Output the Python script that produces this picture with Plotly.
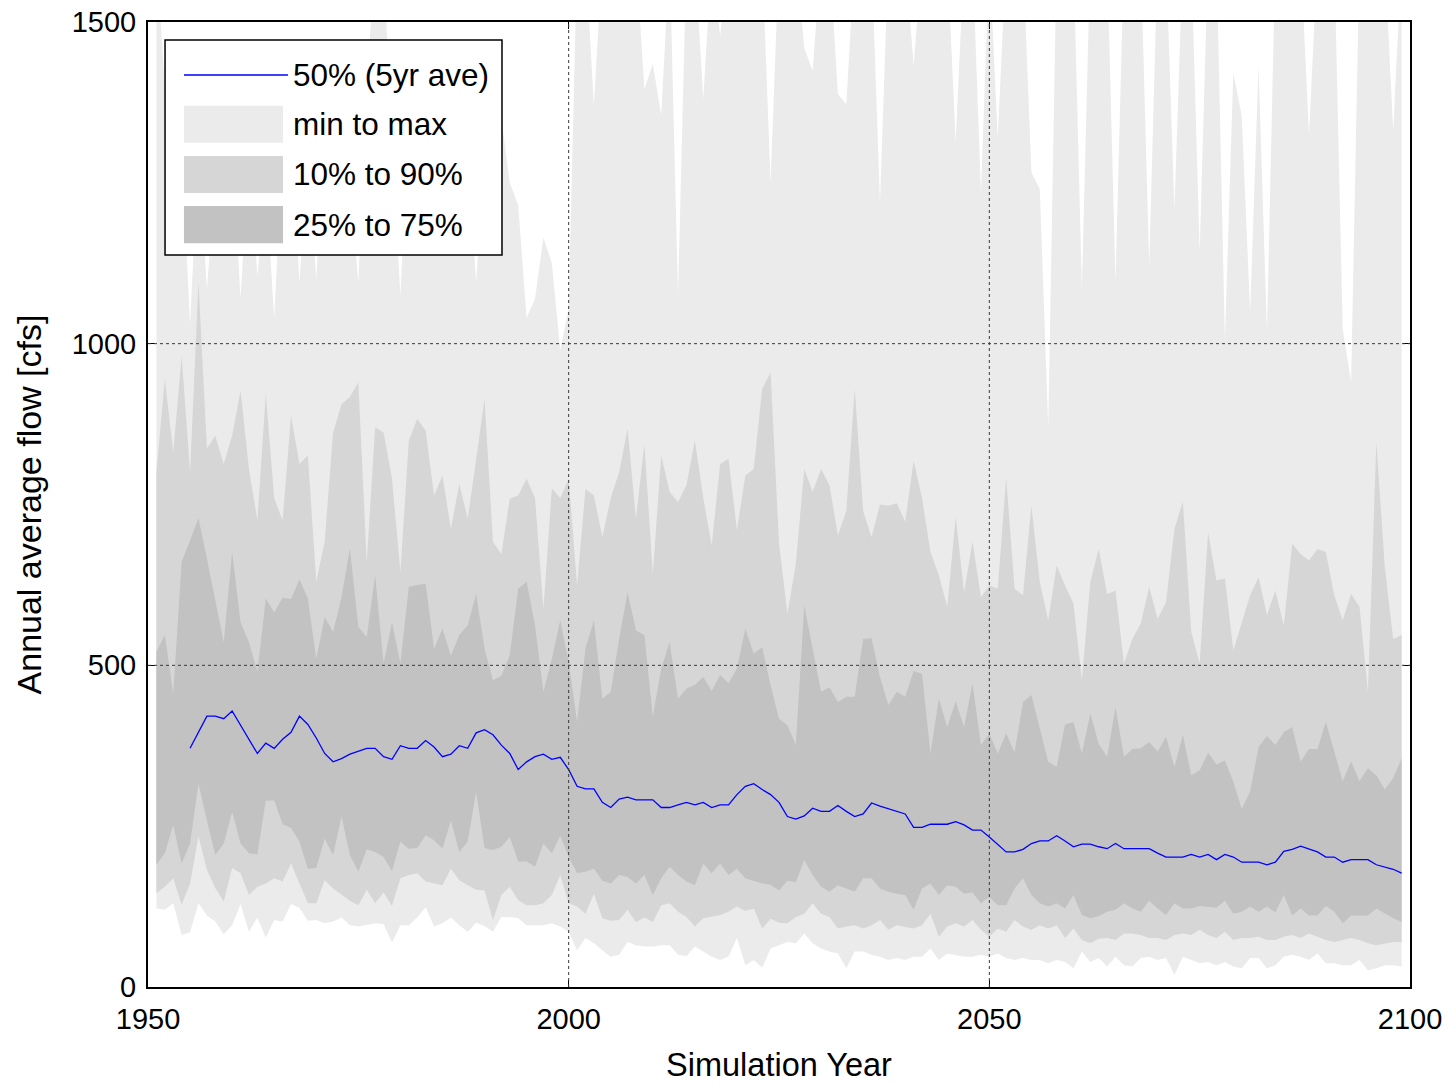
import plotly.graph_objects as go

# ---------------- data ----------------
years = list(range(1951, 2100))

flow_min = [122, 120, 130, 81, 85, 130, 111, 102, 82, 96, 129, 86, 108, 77, 104, 102, 129, 123, 103, 104,
            99, 102, 108, 96, 94, 96, 99, 98, 69, 96, 96, 108, 124, 94, 99, 108, 96, 86,
            100, 95, 86, 109, 109, 107, 96, 96, 96, 99, 94, 86, 57, 76, 68, 57, 47, 50, 70, 65,
            63, 63, 65, 65, 50, 48, 63, 55, 47, 42, 47, 76, 34, 42, 30, 60, 65,
            70, 68, 83, 68, 60, 55, 52, 29, 55, 55, 50, 47, 42, 45, 42, 47, 47, 60, 42, 52,
            50, 47, 47, 50, 47, 52, 45, 42, 45, 42, 42, 37, 42, 39, 29, 55, 39, 45,
            32, 47, 34, 32, 45, 47, 42, 45, 19, 47, 42, 37, 39, 34, 39, 32, 29, 45, 45, 29,
            34, 47, 50, 47, 42, 52, 37, 37, 34, 34, 42, 26, 29, 34, 34, 32]

flow_p10 = [146, 156, 169, 128, 161, 234, 182, 154, 133, 185, 177, 143, 156, 161, 169, 164, 192, 160, 130, 130,
            166, 153, 143, 134, 127, 151, 130, 147, 126, 169, 174, 177, 164, 161, 158, 184, 166, 158,
            151, 150, 104, 143, 156, 135, 127, 127, 130, 143, 174, 130, 125, 114, 145, 107, 103, 104, 120, 101,
            108, 101, 127, 130, 117, 109, 94, 107, 109, 112, 117, 125, 118, 122, 91, 106, 100,
            99, 109, 114, 130, 114, 109, 91, 94, 96, 91, 96, 104, 89, 96, 94, 91, 96, 114, 78, 94,
            99, 94, 104, 89, 78, 91, 86, 104, 94, 89, 96, 91, 96, 76, 91, 73, 68, 75,
            76, 73, 83, 83, 81, 76, 76, 73, 81, 83, 81, 89, 81, 76, 86, 73, 76, 76, 78, 73,
            73, 78, 81, 76, 83, 78, 73, 70, 73, 76, 73, 68, 65, 68, 70, 70]

flow_p25 = [190, 208, 252, 192, 223, 316, 259, 205, 223, 272, 223, 208, 206, 290, 290, 253, 247, 226, 184, 185,
            231, 205, 265, 205, 179, 214, 210, 202, 180, 226, 215, 216, 236, 228, 215, 259, 210, 226,
            303, 216, 213, 218, 233, 195, 195, 187, 223, 208, 235, 202, 177, 179, 184, 165, 161, 174, 171, 161,
            174, 143, 169, 187, 174, 164, 158, 192, 177, 192, 174, 184, 169, 165, 161, 159, 150,
            165, 163, 197, 174, 156, 148, 158, 153, 148, 169, 169, 153, 148, 145, 143, 120, 153, 161, 143, 158,
            156, 145, 147, 130, 140, 127, 127, 153, 169, 143, 130, 125, 130, 122, 143, 112, 107, 110,
            117, 120, 130, 122, 117, 134, 122, 112, 130, 122, 122, 126, 125, 123, 134, 114, 117, 125, 117, 125,
            116, 143, 111, 122, 111, 111, 126, 117, 99, 111, 111, 111, 122, 114, 107, 101]

flow_p75 = [521, 547, 456, 661, 694, 729, 666, 598, 536, 676, 567, 536, 490, 604, 582, 605, 603, 634, 604, 510,
            575, 552, 606, 682, 560, 544, 640, 503, 567, 503, 622, 625, 627, 526, 557, 515, 547, 562,
            611, 526, 477, 484, 516, 619, 630, 562, 459, 510, 570, 505, 412, 526, 570, 448, 459, 541, 614, 554,
            547, 420, 495, 536, 448, 464, 470, 482, 460, 485, 472, 495, 557, 518, 528, 469, 417,
            407, 376, 593, 526, 459, 466, 443, 451, 451, 541, 542, 482, 438, 459, 451, 491, 487, 363, 448, 404,
            444, 404, 472, 376, 394, 363, 394, 365, 443, 454, 402, 350, 342, 408, 412, 363, 425, 378,
            358, 435, 358, 370, 371, 381, 366, 389, 342, 392, 329, 337, 364, 346, 352, 319, 277, 304, 373, 390,
            376, 396, 404, 350, 370, 370, 412, 366, 320, 351, 320, 340, 329, 307, 325, 355]

flow_p90 = [800, 945, 831, 981, 800, 1095, 837, 857, 813, 857, 927, 805, 725, 922, 760, 725, 888, 813, 826, 630,
            692, 862, 906, 917, 940, 660, 870, 862, 790, 645, 849, 883, 865, 764, 795, 712, 782, 728,
            820, 914, 692, 673, 759, 764, 790, 760, 588, 775, 760, 790, 624, 774, 764, 699, 760, 800, 868, 728,
            844, 642, 826, 770, 754, 780, 850, 760, 686, 813, 821, 710, 795, 805, 930,
            955, 690, 580, 658, 805, 770, 805, 780, 702, 740, 930, 740, 699, 750, 748, 752, 723, 818, 760, 676,
            640, 591, 730, 614, 692, 606, 624, 619, 792, 619, 609, 748, 629, 570, 655, 624, 596, 477,
            629, 681, 611, 616, 503, 541, 565, 622, 572, 598, 712, 754, 552, 503, 707, 632, 635, 523, 567, 609,
            637, 578, 616, 562, 689, 673, 663, 681, 676, 609, 570, 611, 591, 459, 847, 653, 541, 547]

flow_max = [1600, 1400, 1350, 1300, 1030, 1300, 1085, 1250, 1350, 1300, 1070, 1300, 1105, 1250, 1040, 1300, 1350, 1095, 1300, 1100,
            1350, 1400, 1300, 1250, 1095, 1400, 1600, 1600, 1300, 1075, 1350, 1300, 1250, 1400, 1350, 1300, 1300, 1300,
            1095, 1300, 1350, 1350, 1250, 1215, 1040, 1070, 1165, 1125, 990, 1055,
            1600, 1600, 1370, 1600, 1600, 1600, 1600, 1600, 1395, 1435, 1355, 1600, 1075, 1600, 1600, 1380, 1600, 1478,
            1600, 1600, 1600, 1600, 1600, 1250, 1600,
            1600, 1600, 1460, 1424, 1600, 1600, 1388, 1372, 1600, 1600, 1600, 1219, 1600, 1600, 1600, 1432, 1600, 1600,
            1600, 1600, 1313, 1600, 1600, 1235, 1600, 1320, 1600, 1600, 1600, 1266, 1240, 870, 1600, 1600, 1600, 1085,
            1600, 1600, 1600, 1095, 1600, 1600, 1600, 1121, 1600, 1600, 1209, 1600, 1600, 1142, 1600, 1600, 1005, 1421,
            1354, 1049, 1432, 1018, 1600, 1600, 1600, 1600, 1323, 1600, 1600, 1600, 1023, 940, 1600, 1600, 1600, 1600,
            1330, 1600]

median_years = list(range(1955, 2100))
median_5yr = [371, 395, 421, 421, 417, 429, 407, 386, 363, 379, 371, 385, 396, 421, 408, 387, 363, 350, 355, 362,
              366, 371, 371, 358, 354, 375, 371, 371, 383, 373, 358, 362, 375, 371, 395, 400, 392, 376, 363, 338,
              350, 358, 362, 354, 357, 338, 312, 308, 308, 287, 279, 292, 295, 291, 291, 291, 279, 279, 283, 287,
              283, 287, 279, 283, 283, 299, 312, 316, 307, 299, 287, 265, 261, 266, 278, 273, 273, 282, 273, 265,
              269, 286, 281, 277, 273, 269, 248, 248, 253, 253, 253, 257, 252, 244, 244, 233, 222, 210, 210, 214,
              223, 227, 227, 235, 227, 218, 222, 222, 218, 215, 223, 215, 215, 215, 215, 208, 202, 202, 202, 206,
              202, 206, 198, 206, 202, 194, 194, 194, 190, 194, 211, 214, 219, 214, 210, 202, 202, 194, 198, 198,
              198, 190, 186, 183, 177]

x_ticks = [1950, 2000, 2050, 2100]
y_ticks = [0, 500, 1000, 1500]

legend_labels = ["50% (5yr ave)", "min to max", "10% to 90%", "25% to 75%"]
band_colors = ["#ebebeb", "#d6d6d6", "#c2c2c2"]
median_color = "#0000ff"

FONT = "Liberation Sans, Arial, Helvetica, sans-serif"

# ---------------- figure ----------------
fig = go.Figure()

bands = [(flow_min, flow_max), (flow_p10, flow_p90), (flow_p25, flow_p75)]
for (lo, hi), col, name in zip(bands, band_colors, legend_labels[1:]):
    fig.add_trace(go.Scatter(x=years, y=lo, mode="lines", line=dict(width=0, color=col),
                             showlegend=False, hoverinfo="skip"))
    fig.add_trace(go.Scatter(x=years, y=hi, mode="lines", line=dict(width=0, color=col),
                             fill="tonexty", fillcolor=col, name=name, showlegend=False))

fig.add_trace(go.Scatter(x=median_years, y=median_5yr, mode="lines",
                         line=dict(color=median_color, width=1.3),
                         name=legend_labels[0], showlegend=False))

# dotted grid drawn over the bands (as in the original)
shapes = []
for v in x_ticks[1:-1]:
    shapes.append(dict(type="line", xref="x", yref="paper", x0=v, x1=v, y0=0, y1=1,
                       line=dict(color="#3a3a3a", width=1, dash="dot"), layer="above"))
for v in y_ticks[1:-1]:
    shapes.append(dict(type="line", xref="paper", yref="y", x0=0, x1=1, y0=v, y1=v,
                       line=dict(color="#3a3a3a", width=1, dash="dot"), layer="above"))

# legend box (drawn by hand so swatches match the original size)
lx0, lx1, ly0, ly1 = 0.0135, 0.2805, 0.7585, 0.9813
shapes.append(dict(type="rect", xref="paper", yref="paper", x0=lx0, x1=lx1, y0=ly0, y1=ly1,
                   fillcolor="white", line=dict(color="black", width=1.5), layer="above"))
sw_x0, sw_x1 = 0.0285, 0.1070
row_y = [0.9451, 0.8940, 0.8420, 0.7900]
half_h = 0.0192
shapes.append(dict(type="line", xref="paper", yref="paper", x0=sw_x0, x1=0.1109,
                   y0=row_y[0], y1=row_y[0], line=dict(color=median_color, width=1.3), layer="above"))
for ry, col in zip(row_y[1:], band_colors):
    shapes.append(dict(type="rect", xref="paper", yref="paper", x0=sw_x0, x1=sw_x1,
                       y0=ry - half_h, y1=ry + half_h, fillcolor=col, line=dict(width=0), layer="above"))

annotations = []
for ry, lab in zip(row_y, legend_labels):
    annotations.append(dict(xref="paper", yref="paper", x=0.1135, y=ry, text=lab, showarrow=False,
                            xanchor="left", yanchor="middle", font=dict(size=31.5, color="black", family=FONT)))

fig.update_layout(
    width=1451, height=1088,
    margin=dict(l=148, r=41, t=22, b=101, autoexpand=False),
    paper_bgcolor="white", plot_bgcolor="white",
    font=dict(family=FONT, size=29, color="black"),
    shapes=shapes, annotations=annotations,
    showlegend=False, hovermode=False,
)
fig.update_xaxes(range=[x_ticks[0], x_ticks[-1]], tickvals=x_ticks, ticks="inside", ticklen=7,
                 tickwidth=1.5, tickcolor="black", showline=True, linecolor="black", linewidth=2,
                 mirror="ticks", showgrid=False, zeroline=False, ticklabelstandoff=5,
                 ticklabeloverflow="allow", automargin=False,
                 tickfont=dict(size=29), title=dict(text="Simulation Year", font=dict(size=32.5), standoff=19))
fig.update_yaxes(range=[y_ticks[0], y_ticks[-1]], tickvals=y_ticks, ticks="inside", ticklen=7,
                 tickwidth=1.5, tickcolor="black", showline=True, linecolor="black", linewidth=2,
                 mirror="ticks", showgrid=False, zeroline=False, ticklabelstandoff=4,
                 ticklabeloverflow="allow", automargin=False,
                 tickfont=dict(size=29), title=dict(text="Annual average flow [cfs]", font=dict(size=34), standoff=20))

# remove the page's default 8px body margin so the figure fills the window exactly
fig.write_html("out.html", config={"displayModeBar": False, "staticPlot": True},
               post_script="document.body.style.margin='0px';")
